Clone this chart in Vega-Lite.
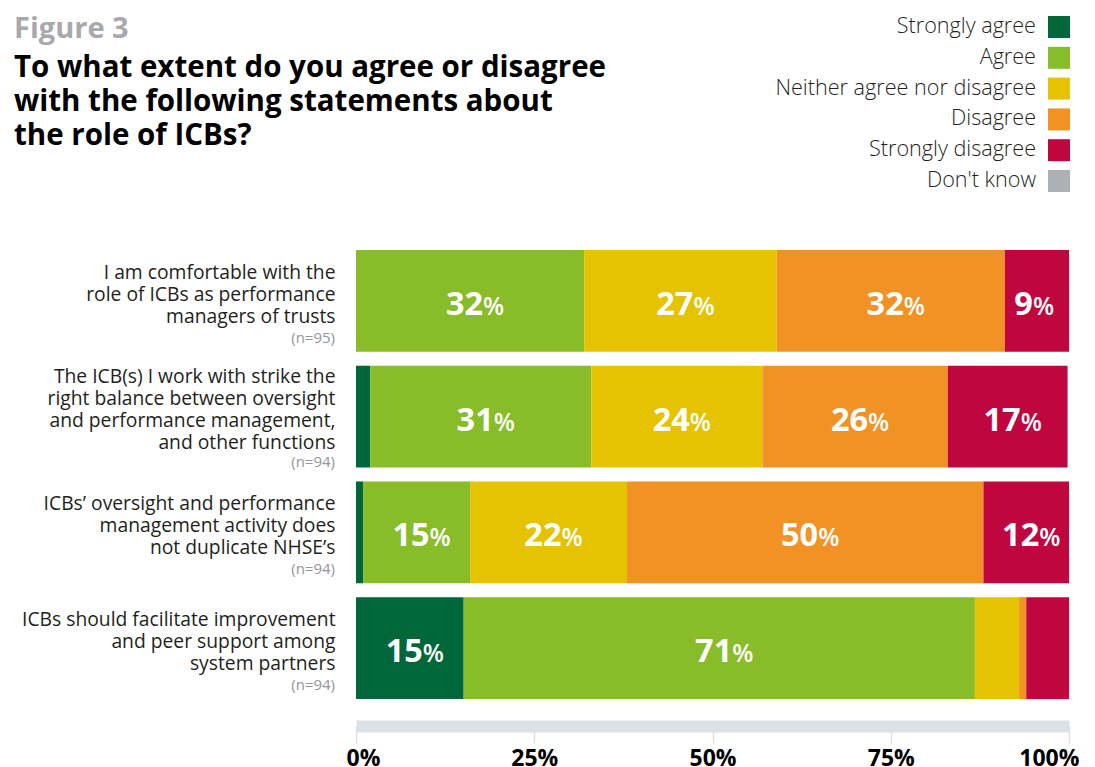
{
  "$schema": "https://vega.github.io/schema/vega-lite/v6.json",
  "width": 713,
  "height": 449,
  "autosize": {"type": "none"},
  "padding": {"left": 356, "top": 250, "right": 26, "bottom": 68},
  "background": "white",
  "config": {
    "font": "Open Sans",
    "view": {"stroke": null},
    "legend": {
      "orient": "none",
      "legendX": 692,
      "legendY": -234,
      "symbolType": "square",
      "symbolSize": 484,
      "symbolStrokeWidth": 0,
      "symbolOpacity": 1,
      "labelAlign": "right",
      "labelOffset": -34,
      "labelFontSize": 21.6,
      "labelFont": "Open Sans",
      "labelFontWeight": 300,
      "labelColor": "#231f20",
      "rowPadding": 8.8,
      "padding": 0,
      "labelLimit": 500
    }
  },
  "title": {
    "text": "Figure 3",
    "subtitle": ["To what extent do you agree or disagree", "with the following statements about", "the role of ICBs?"],
    "anchor": "start",
    "frame": "group",
    "dx": -342,
    "dy": 138,
    "color": "#a7a9ac",
    "fontSize": 29,
    "fontWeight": "bold",
    "font": "Open Sans",
    "subtitleFont": "Open Sans",
    "subtitleColor": "#000000",
    "subtitleFontSize": 29.5,
    "subtitleFontWeight": "bold",
    "subtitleLineHeight": 34,
    "subtitlePadding": 10
  },
  "datasets": {
    "segments": [
      {"q": "I am comfortable with the|role of ICBs as performance|managers of trusts", "cat": "Strongly agree", "ord": 1, "value": 0, "pct": "0"},
      {"q": "I am comfortable with the|role of ICBs as performance|managers of trusts", "cat": "Agree", "ord": 2, "value": 32, "pct": "32"},
      {"q": "I am comfortable with the|role of ICBs as performance|managers of trusts", "cat": "Neither agree nor disagree", "ord": 3, "value": 27, "pct": "27"},
      {"q": "I am comfortable with the|role of ICBs as performance|managers of trusts", "cat": "Disagree", "ord": 4, "value": 32, "pct": "32"},
      {"q": "I am comfortable with the|role of ICBs as performance|managers of trusts", "cat": "Strongly disagree", "ord": 5, "value": 9, "pct": "9"},
      {"q": "The ICB(s) I work with strike the|right balance between oversight|and performance management,|and other functions", "cat": "Strongly agree", "ord": 1, "value": 2, "pct": "2"},
      {"q": "The ICB(s) I work with strike the|right balance between oversight|and performance management,|and other functions", "cat": "Agree", "ord": 2, "value": 31, "pct": "31"},
      {"q": "The ICB(s) I work with strike the|right balance between oversight|and performance management,|and other functions", "cat": "Neither agree nor disagree", "ord": 3, "value": 24, "pct": "24"},
      {"q": "The ICB(s) I work with strike the|right balance between oversight|and performance management,|and other functions", "cat": "Disagree", "ord": 4, "value": 26, "pct": "26"},
      {"q": "The ICB(s) I work with strike the|right balance between oversight|and performance management,|and other functions", "cat": "Strongly disagree", "ord": 5, "value": 16.8, "pct": "17"},
      {"q": "ICBs’ oversight and performance|management activity does|not duplicate NHSE’s", "cat": "Strongly agree", "ord": 1, "value": 1, "pct": "1"},
      {"q": "ICBs’ oversight and performance|management activity does|not duplicate NHSE’s", "cat": "Agree", "ord": 2, "value": 15, "pct": "15"},
      {"q": "ICBs’ oversight and performance|management activity does|not duplicate NHSE’s", "cat": "Neither agree nor disagree", "ord": 3, "value": 22, "pct": "22"},
      {"q": "ICBs’ oversight and performance|management activity does|not duplicate NHSE’s", "cat": "Disagree", "ord": 4, "value": 50, "pct": "50"},
      {"q": "ICBs’ oversight and performance|management activity does|not duplicate NHSE’s", "cat": "Strongly disagree", "ord": 5, "value": 12, "pct": "12"},
      {"q": "ICBs should facilitate improvement|and peer support among|system partners", "cat": "Strongly agree", "ord": 1, "value": 15.1, "pct": "15"},
      {"q": "ICBs should facilitate improvement|and peer support among|system partners", "cat": "Agree", "ord": 2, "value": 71.7, "pct": "71"},
      {"q": "ICBs should facilitate improvement|and peer support among|system partners", "cat": "Neither agree nor disagree", "ord": 3, "value": 6.2, "pct": "6"},
      {"q": "ICBs should facilitate improvement|and peer support among|system partners", "cat": "Disagree", "ord": 4, "value": 1, "pct": "1"},
      {"q": "ICBs should facilitate improvement|and peer support among|system partners", "cat": "Strongly disagree", "ord": 5, "value": 6, "pct": "6"}
    ],
    "questions": [
      {"q": "I am comfortable with the|role of ICBs as performance|managers of trusts", "n": "(n=95)", "lines": 3},
      {"q": "The ICB(s) I work with strike the|right balance between oversight|and performance management,|and other functions", "n": "(n=94)", "lines": 4},
      {"q": "ICBs’ oversight and performance|management activity does|not duplicate NHSE’s", "n": "(n=94)", "lines": 3},
      {"q": "ICBs should facilitate improvement|and peer support among|system partners", "n": "(n=94)", "lines": 3}
    ]
  },
  "layer": [
    {
      "data": {"name": "segments"},
      "transform": [
        {"stack": "value", "groupby": ["q"], "sort": [{"field": "ord"}], "as": ["v0", "v1"]}
      ],
      "mark": {"type": "bar"},
      "encoding": {
        "y": {
          "field": "q", "type": "nominal", "sort": null,
          "scale": {"paddingInner": 0.12, "paddingOuter": 0},
          "axis": {
            "title": null, "domain": false, "ticks": false, "grid": false,
            "labelPadding": 21, "labelFontSize": 19.3, "labelColor": "#231f20",
            "labelFont": "Open Sans",
            "labelLineHeight": 22, "labelLimit": 400,
            "labelOffset": {"condition": {"test": "length(split(datum.label, '|')) == 4", "value": -40}, "value": -28},
            "labelExpr": "split(datum.label, '|')"
          }
        },
        "x": {
          "field": "v0", "type": "quantitative",
          "scale": {"domain": [0, 100], "nice": false},
          "axis": {
            "title": null, "grid": false, "values": [0, 25, 50, 75, 100],
            "domainColor": "#dce1e5", "domainWidth": 12, "offset": 27,
            "tickColor": "#dce1e5", "tickSize": 17, "tickWidth": 1.5,
            "labelExpr": "datum.value + '%'", "labelFontSize": 23,
            "labelFontWeight": "bold", "labelColor": "#000000",
            "labelPadding": 4, "labelFlush": true, "labelFlushOffset": 10, "labelFont": "Open Sans"
          }
        },
        "x2": {"field": "v1"},
        "color": {
          "field": "cat", "type": "nominal",
          "scale": {
            "domain": ["Strongly agree", "Agree", "Neither agree nor disagree", "Disagree", "Strongly disagree", "Don't know"],
            "range": ["#00673b", "#88bc28", "#e5c300", "#f29224", "#c0063f", "#aeb1b4"]
          },
          "legend": {"title": null}
        }
      }
    },
    {
      "data": {"name": "segments"},
      "transform": [
        {"stack": "value", "groupby": ["q"], "sort": [{"field": "ord"}], "as": ["v0", "v1"]},
        {"calculate": "(datum.v0 + datum.v1) / 2", "as": "mid"},
        {"filter": "datum.value >= 8 && length(datum.pct) == 2"}
      ],
      "mark": {"type": "text", "align": "right", "baseline": "alphabetic", "dx": 13, "dy": 14, "fontSize": 32.5, "fontWeight": "bold", "color": "white"},
      "encoding": {
        "y": {"field": "q", "type": "nominal", "sort": null},
        "x": {"field": "mid", "type": "quantitative"},
        "text": {"field": "pct"}
      }
    },
    {
      "data": {"name": "segments"},
      "transform": [
        {"stack": "value", "groupby": ["q"], "sort": [{"field": "ord"}], "as": ["v0", "v1"]},
        {"calculate": "(datum.v0 + datum.v1) / 2", "as": "mid"},
        {"filter": "datum.value >= 8 && length(datum.pct) == 2"}
      ],
      "mark": {"type": "text", "align": "left", "baseline": "alphabetic", "dx": 13, "dy": 14, "fontSize": 24.5, "fontWeight": 600, "color": "white", "text": "%"},
      "encoding": {
        "y": {"field": "q", "type": "nominal", "sort": null},
        "x": {"field": "mid", "type": "quantitative"}
      }
    },
    {
      "data": {"name": "segments"},
      "transform": [
        {"stack": "value", "groupby": ["q"], "sort": [{"field": "ord"}], "as": ["v0", "v1"]},
        {"calculate": "(datum.v0 + datum.v1) / 2", "as": "mid"},
        {"filter": "datum.value >= 8 && length(datum.pct) == 1"}
      ],
      "mark": {"type": "text", "align": "right", "baseline": "alphabetic", "dx": -4, "dy": 14, "fontSize": 32.5, "fontWeight": "bold", "color": "white"},
      "encoding": {
        "y": {"field": "q", "type": "nominal", "sort": null},
        "x": {"field": "mid", "type": "quantitative"},
        "text": {"field": "pct"}
      }
    },
    {
      "data": {"name": "segments"},
      "transform": [
        {"stack": "value", "groupby": ["q"], "sort": [{"field": "ord"}], "as": ["v0", "v1"]},
        {"calculate": "(datum.v0 + datum.v1) / 2", "as": "mid"},
        {"filter": "datum.value >= 8 && length(datum.pct) == 1"}
      ],
      "mark": {"type": "text", "align": "left", "baseline": "alphabetic", "dx": -4, "dy": 14, "fontSize": 24.5, "fontWeight": 600, "color": "white", "text": "%"},
      "encoding": {
        "y": {"field": "q", "type": "nominal", "sort": null},
        "x": {"field": "mid", "type": "quantitative"}
      }
    },
    {
      "data": {"name": "questions"},
      "transform": [{"filter": "datum.lines == 3"}],
      "mark": {"type": "text", "align": "right", "baseline": "middle", "dx": -21, "dy": 37, "fontSize": 15, "color": "#939598"},
      "encoding": {
        "y": {"field": "q", "type": "nominal", "sort": null},
        "x": {"datum": 0, "type": "quantitative"},
        "text": {"field": "n"}
      }
    },
    {
      "data": {"name": "questions"},
      "transform": [{"filter": "datum.lines == 4"}],
      "mark": {"type": "text", "align": "right", "baseline": "middle", "dx": -21, "dy": 45, "fontSize": 15, "color": "#939598"},
      "encoding": {
        "y": {"field": "q", "type": "nominal", "sort": null},
        "x": {"datum": 0, "type": "quantitative"},
        "text": {"field": "n"}
      }
    }
  ]
}
